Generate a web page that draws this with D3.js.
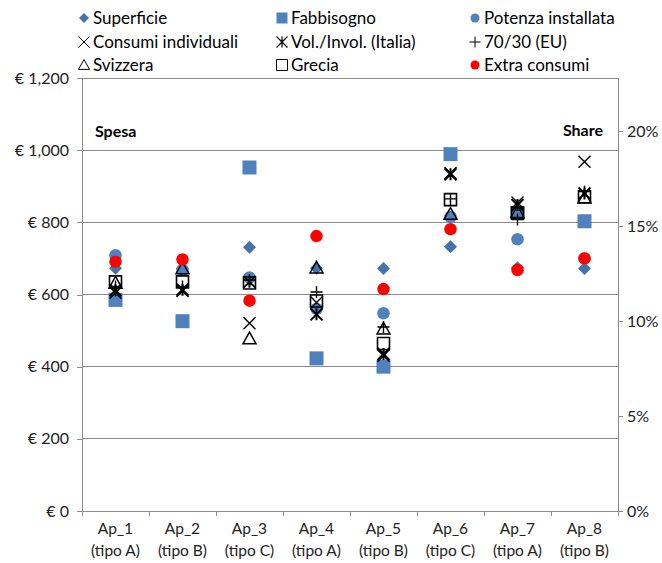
<!DOCTYPE html>
<html><head><meta charset="utf-8">
<script src="https://cdn.jsdelivr.net/npm/d3@7"></script>
<style>body{margin:0;background:#fff}svg{display:block;font-family:Lato,"Noto Sans",sans-serif}</style>
</head><body><svg id="c" width="662" height="563"></svg>
<script>
const categories = ["Ap_1","Ap_2","Ap_3","Ap_4","Ap_5","Ap_6","Ap_7","Ap_8"];
const categorySub = ["(tipo A)","(tipo B)","(tipo C)","(tipo A)","(tipo B)","(tipo C)","(tipo A)","(tipo B)"];
const superficie = [673, 672, 731, 673, 672, 732, 674, 672];
const fabbisogno = [585, 526, 952, 423, 400, 989, 826, 803];
const potenza = [709, 668, 647, 560, 548, 815, 753, 700];
const consumiIndividuali = [605, 610, 520, 578, 430, 937, 855, 968];
const volInvol = [612, 613, 635, 545, 435, 933, 848, 880];
const euro7030 = [622, 622, 640, 607, 510, 865, 808, 885];
const svizzera = [632, 672, 478, 674, 505, 823, 828, 868];
const grecia = [635, 635, 632, 582, 464, 863, 826, 871];
const extraConsumi = [691, 697, 583, 762, 615, 781, 668, 700];
const leftTicks = [0, 200, 400, 600, 800, 1000, 1200];
const rightTicks = [0, 0.05, 0.10, 0.15, 0.20];

const series = [
  {name:"Superficie", values:superficie, type:"diamond", fill:"#4472AA", stroke:"none"},
  {name:"Fabbisogno", values:fabbisogno, type:"square", fill:"#4F81BD", stroke:"none"},
  {name:"Potenza installata", values:potenza, type:"circle", fill:"#4F81BD", stroke:"none"},
  {name:"Consumi individuali", values:consumiIndividuali, type:"x", fill:"none", stroke:"#000"},
  {name:"Vol./Invol. (Italia)", values:volInvol, type:"asterisk", fill:"none", stroke:"#000"},
  {name:"70/30 (EU)", values:euro7030, type:"plus", fill:"none", stroke:"#000"},
  {name:"Svizzera", values:svizzera, type:"triangle", fill:"none", stroke:"#000"},
  {name:"Grecia", values:grecia, type:"hsquare", fill:"none", stroke:"#000"},
  {name:"Extra consumi", values:extraConsumi, type:"circle", fill:"#FF0000", stroke:"none"}
];

function markerPath(type, s){
  const h = s/2;
  switch(type){
    case "diamond": return `M0,${-h}L${h},0L0,${h}L${-h},0Z`;
    case "square": case "hsquare": return `M${-h},${-h}H${h}V${h}H${-h}Z`;
    case "circle": return `M${h},0A${h},${h} 0 1,1 ${-h},0A${h},${h} 0 1,1 ${h},0Z`;
    case "x": return `M${-h},${-h}L${h},${h}M${-h},${h}L${h},${-h}`;
    case "asterisk": return `M${-h},${-h}L${h},${h}M${-h},${h}L${h},${-h}M0,${-h}V${h}`;
    case "plus": return `M${-h},0H${h}M0,${-h}V${h}`;
    case "triangle": return `M0,${-h}L${h},${h*0.8}L${-h},${h*0.8}Z`;
  }
}
const sizes = {diamond:13, square:14, circle:12.5, x:12, asterisk:12, plus:12, triangle:13, hsquare:12};
const widths = {x:1.4, asterisk:2, plus:1.4, triangle:1.5, hsquare:1.6};

const svg = d3.select("#c");
const x = d3.scaleBand().domain(categories).range([82, 618]).padding(0);
const y = d3.scaleLinear().domain([0, 1200]).range([511, 78]);
const y2 = d3.scaleLinear().domain([0, 0.228]).range([511, 78]);
const textColor = "#222";

// gridlines
svg.append("g").selectAll("line").data(leftTicks.filter(d=>d>0)).join("line")
  .attr("x1", 82).attr("x2", 618).attr("y1", d=>y(d)).attr("y2", d=>y(d))
  .attr("stroke", "#8c8c8c").attr("stroke-width", 1).attr("shape-rendering","crispEdges");

// left axis
const gl = svg.append("g").attr("transform","translate(82,0)")
  .call(d3.axisLeft(y).tickValues(leftTicks).tickSize(5).tickPadding(8)
    .tickFormat(d => "€ " + d3.format(",")(d)));
gl.selectAll("path,line").attr("stroke","#8c8c8c").attr("shape-rendering","crispEdges");
gl.select(".domain").attr("d","M0,78V511");
gl.selectAll("text").attr("font-size",16).attr("fill",textColor).attr("font-family","Lato,sans-serif");

// right axis
const gr = svg.append("g").attr("transform","translate(618,0)")
  .call(d3.axisRight(y2).tickValues(rightTicks).tickSize(5).tickPadding(4)
    .tickFormat(d3.format(".0%")));
gr.selectAll("path,line").attr("stroke","#8c8c8c").attr("shape-rendering","crispEdges");
gr.select(".domain").attr("d","M0,78V511");
gr.selectAll("text").attr("font-size",16).attr("fill",textColor).attr("font-family","Lato,sans-serif");

// bottom axis
const gb = svg.append("g");
gb.append("line").attr("x1",82).attr("x2",618).attr("y1",511).attr("y2",511)
  .attr("stroke","#8c8c8c").attr("shape-rendering","crispEdges");
const bounds = categories.map(c => x(c)).concat([x(categories[categories.length-1]) + x.bandwidth()]);
gb.selectAll("line.t").data(bounds).join("line").attr("class","t")
  .attr("x1",d=>d).attr("x2",d=>d).attr("y1",511).attr("y2",516)
  .attr("stroke","#8c8c8c").attr("shape-rendering","crispEdges");
const lab = gb.selectAll("text").data(categories).join("text")
  .attr("x", d => x(d) + x.bandwidth()/2).attr("text-anchor","middle")
  .attr("font-size",15.5).attr("fill",textColor);
lab.append("tspan").attr("x", d => x(d) + x.bandwidth()/2).attr("y",534).text(d=>d);
lab.append("tspan").attr("x", d => x(d) + x.bandwidth()/2).attr("y",556).text((d,i)=>categorySub[i]);

// axis titles
svg.append("text").attr("x",95).attr("y",137).attr("font-size",16).attr("font-weight","bold").attr("fill","#000").text("Spesa");
svg.append("text").attr("x",603).attr("y",136).attr("text-anchor","end").attr("font-size",16).attr("font-weight","bold").attr("fill","#000").text("Share");

// series
series.forEach(s => {
  svg.append("g").selectAll("path").data(s.values).join("path")
    .attr("transform", (v,i) => `translate(${x(categories[i]) + x.bandwidth()/2},${y(v)})`)
    .attr("d", markerPath(s.type, sizes[s.type]))
    .attr("fill", s.fill).attr("stroke", s.stroke)
    .attr("stroke-width", widths[s.type] || 0);
});

// legend
const legX = [84, 282, 475];
const legY = [18, 42, 65];
series.forEach((s, i) => {
  const col = i % 3, row = Math.floor(i / 3);
  const g = svg.append("g").attr("transform", `translate(${legX[col]},${legY[row]})`);
  const sz = s.type === "circle" ? 9 : (s.type === "square" ? 11 : (s.type==="diamond"?10:11));
  g.append("path").attr("d", markerPath(s.type, sz)).attr("fill", s.fill).attr("stroke", s.stroke)
    .attr("stroke-width", s.type==="asterisk"?1.2:1);
  g.append("text").attr("x", 9).attr("y", 6).attr("font-size",17).attr("fill","#000").text(s.name);
});
</script></body></html>
